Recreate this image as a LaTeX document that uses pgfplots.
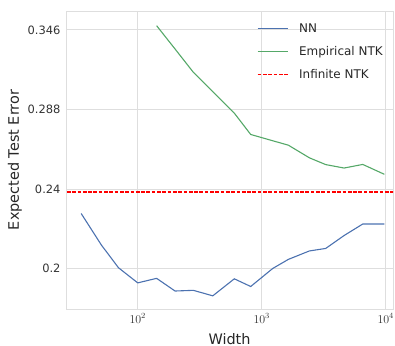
\documentclass[border=0pt]{standalone}
\usepackage[no-math]{fontspec}
\setmainfont{DejaVu Sans}
\usepackage{pgfplots}
\pgfplotsset{compat=1.18}
\definecolor{snsblue}{HTML}{4C72B0}
\definecolor{snsgreen}{HTML}{55A868}
\definecolor{infred}{RGB}{255,0,0}
\definecolor{gridc}{RGB}{222,222,222}
\begin{document}
\begin{tikzpicture}
\useasboundingbox (0,0) rectangle (395bp,346bp);
\begin{axis}[
  at={(66bp,37bp)}, anchor=south west,
  width=327bp, height=298bp, scale only axis,
  xmode=log, ymode=log,
  xmin=26.4, xmax=11450,
  ymin=0.1822, ymax=0.3614,
  xtick={100,1000,10000},
  xticklabels={$10^{2}$,$10^{3}$,$10^{4}$},
  ytick={0.2,0.24,0.288,0.346},
  yticklabels={0.2,0.24,0.288,0.346},
  minor xtick={}, minor ytick={},
  major tick length=0pt, minor tick length=0pt,
  grid=major,
  major grid style={color=gridc, line width=0.9bp},
  axis line style={color=gridc, line width=0.9bp},
  tick label style={font=\fontsize{12}{14}\selectfont, color=black!80},
  yticklabel style={font=\fontsize{11.5}{13}\selectfont, xshift=-2bp},
  xticklabel style={yshift=-1bp},
  xlabel={Width}, ylabel={Expected Test Error},
  label style={font=\fontsize{14.5}{17}\selectfont, color=black!85},
  xlabel style={at={(axis description cs:0.5,0)}, anchor=base, yshift=-35bp},
  ylabel style={at={(axis description cs:-0.156,0.5)}, anchor=center, rotate=0},
  legend style={at={(0.975,0.965)}, anchor=north east, draw=none, fill=none,
    font=\fontsize{12}{14}\selectfont, text=black!85, row sep=8.5bp,
    inner xsep=0pt, inner ysep=0pt,
    /tikz/every odd column/.append style={column sep=9bp}},
  legend cell align=left,
  legend image code/.code={\draw[#1] (0bp,0bp) -- (30bp,0bp);},
]
\addplot[draw=snsblue, line width=1.1bp] coordinates {
(35,0.2269) (51,0.2110) (70,0.2003) (100,0.1935) (142,0.1955) (200,0.1899)
(281,0.1902) (403,0.1878) (601,0.1953) (815,0.1919) (1227,0.2000) (1640,0.2042)
(2422,0.2082) (3282,0.2094) (4614,0.2157) (6531,0.2215) (9750,0.2215)
};
\addlegendentry{NN}
\addplot[draw=snsgreen, line width=1.1bp] coordinates {
(142,0.3494) (200,0.3312) (281,0.3139) (403,0.3003) (601,0.2858) (815,0.2721)
(1227,0.2682) (1640,0.2655) (2422,0.2579) (3282,0.2539) (4614,0.2519)
(6531,0.2540) (9750,0.2483)
};
\addlegendentry{Empirical NTK}
\addplot[draw=infred, line width=1.2bp, dash pattern=on 3.7bp off 1.6bp] coordinates {
(20,0.2384) (15000,0.2384)
};
\addlegendentry{Infinite NTK}
\end{axis}
\end{tikzpicture}
\end{document}
